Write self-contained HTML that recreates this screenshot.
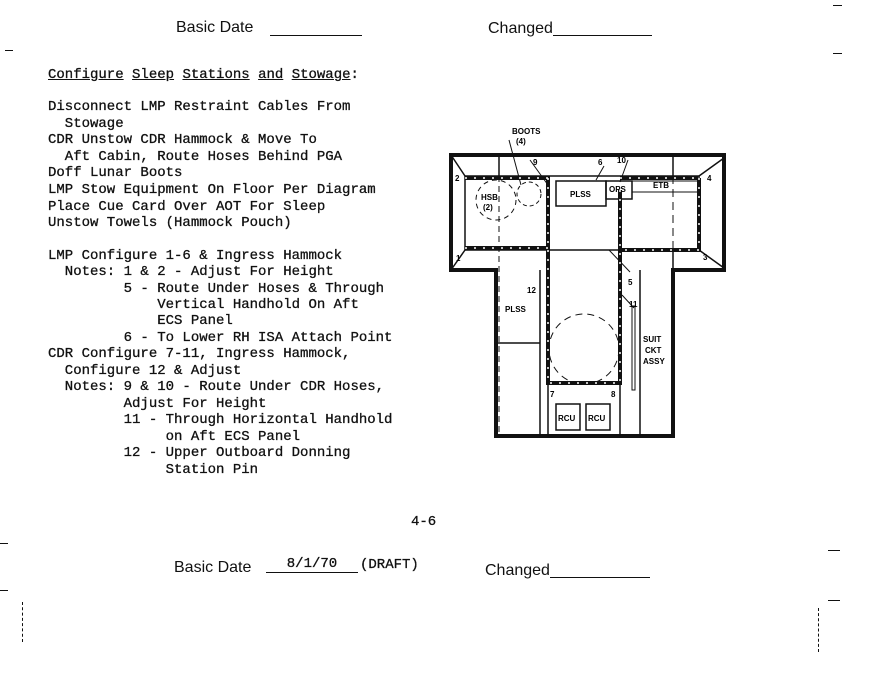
<!DOCTYPE html>
<html><head><style>
body{margin:0;width:871px;height:695px;background:#fff;position:relative;overflow:hidden;font-family:"Liberation Sans",sans-serif;color:#111}
.m{position:absolute;font-family:"Liberation Mono",monospace;font-size:14px;line-height:16px;white-space:pre;-webkit-text-stroke:0.3px #111}
.s{position:absolute;font-size:16px;white-space:pre}
.l{position:absolute;height:1px;background:#111}
u{text-decoration:underline}
</style></head><body>
<div class="s" style="left:176px;top:19px">Basic Date</div><div class="l" style="left:270px;top:35px;width:92px"></div>
<div class="s" style="left:488px;top:20px">Changed</div><div class="l" style="left:553px;top:35px;width:99px"></div>
<div class="m" style="left:48px;top:67px"><u>Configure</u> <u>Sleep</u> <u>Stations</u> <u>and</u> <u>Stowage</u>:</div>
<div class="m" style="left:48px;top:99px">Disconnect LMP Restraint Cables From</div>
<div class="m" style="left:48px;top:116px">  Stowage</div>
<div class="m" style="left:48px;top:132px">CDR Unstow CDR Hammock &amp; Move To</div>
<div class="m" style="left:48px;top:149px">  Aft Cabin, Route Hoses Behind PGA</div>
<div class="m" style="left:48px;top:165px">Doff Lunar Boots</div>
<div class="m" style="left:48px;top:182px">LMP Stow Equipment On Floor Per Diagram</div>
<div class="m" style="left:48px;top:199px">Place Cue Card Over AOT For Sleep</div>
<div class="m" style="left:48px;top:215px">Unstow Towels (Hammock Pouch)</div>
<div class="m" style="left:48px;top:248px">LMP Configure 1-6 &amp; Ingress Hammock</div>
<div class="m" style="left:48px;top:264px">  Notes: 1 &amp; 2 - Adjust For Height</div>
<div class="m" style="left:48px;top:281px">         5 - Route Under Hoses &amp; Through</div>
<div class="m" style="left:48px;top:297px">             Vertical Handhold On Aft</div>
<div class="m" style="left:48px;top:313px">             ECS Panel</div>
<div class="m" style="left:48px;top:330px">         6 - To Lower RH ISA Attach Point</div>
<div class="m" style="left:48px;top:346px">CDR Configure 7-11, Ingress Hammock,</div>
<div class="m" style="left:48px;top:363px">  Configure 12 &amp; Adjust</div>
<div class="m" style="left:48px;top:379px">  Notes: 9 &amp; 10 - Route Under CDR Hoses,</div>
<div class="m" style="left:48px;top:396px">         Adjust For Height</div>
<div class="m" style="left:48px;top:412px">         11 - Through Horizontal Handhold</div>
<div class="m" style="left:48px;top:429px">              on Aft ECS Panel</div>
<div class="m" style="left:48px;top:445px">         12 - Upper Outboard Donning</div>
<div class="m" style="left:48px;top:462px">              Station Pin</div>
<div class="m" style="left:411px;top:514px">4-6</div>
<div class="s" style="left:174px;top:559px">Basic Date</div>
<div class="m" style="left:266px;top:557px;width:92px;text-align:center;border-bottom:1px solid #111;line-height:15px">8/1/70</div>
<div class="m" style="left:360px;top:557px">(DRAFT)</div>
<div class="s" style="left:485px;top:562px">Changed</div><div class="l" style="left:550px;top:577px;width:100px"></div>
<div class="l" style="left:5px;top:50px;width:8px"></div><div class="l" style="left:0px;top:543px;width:8px"></div><div class="l" style="left:0px;top:590px;width:8px"></div>
<div class="l" style="left:833px;top:5px;width:9px"></div><div class="l" style="left:833px;top:53px;width:9px"></div><div class="l" style="left:828px;top:550px;width:12px"></div><div class="l" style="left:828px;top:600px;width:12px"></div>
<div style="position:absolute;left:22px;top:602px;width:1px;height:40px;border-left:1px dashed #111"></div>
<div style="position:absolute;left:818px;top:608px;width:1px;height:44px;border-left:1px dashed #111"></div>
<svg width="871" height="695" style="position:absolute;left:0;top:0" font-family="Liberation Sans,sans-serif" font-weight="bold" font-size="8">
<g fill="none" stroke="#111">
<path d="M451 155H724V270H673V436H496V270H451Z" stroke-width="4"/>
<rect x="465" y="176" width="234" height="74" stroke-width="1.5"/>
<path d="M451 155L465 176M724 158L699 176M451 270L465 250M724 268L699 250" stroke-width="1.5"/>
<path d="M499 155V176M673 155V176M673 250V270M540 270V436M640 270V436M496 343H540M548 383H620V436M548 383V436" stroke-width="1.5"/>
<path d="M499 176V436" stroke-width="1" stroke-dasharray="6 4"/>
<path d="M673 176V250M548 250H620" stroke-width="1" stroke-dasharray="8 5"/>
<rect x="556" y="404" width="24" height="26" stroke-width="1.5"/><rect x="586" y="404" width="24" height="26" stroke-width="1.5"/>
<rect x="556" y="181" width="50" height="25" stroke-width="1.5"/><rect x="606" y="181" width="26" height="18" stroke-width="1.5"/>
<path d="M632 181H698M632 192H698" stroke-width="1"/>
<circle cx="496" cy="200" r="20" stroke-width="1" stroke-dasharray="5 4"/>
<circle cx="529" cy="194" r="12" stroke-width="1" stroke-dasharray="4 3"/>
<circle cx="584" cy="349" r="35" stroke-width="1" stroke-dasharray="7 5"/>
<rect x="632" y="306" width="3" height="84" stroke-width="1"/>
<path d="M509 140L521 185M530 160L548 185M604 166L596 180M628 160L620 182M609 250L630 272M622 295L634 308" stroke-width="1"/>
</g>
<g fill="none" stroke="#111" stroke-width="4">
<path d="M465 178H550M620 178H698M699 178V250H620M465 248H548M548 178V383H620V190"/>
</g>
<g fill="none" stroke="#fff" stroke-width="1.5" stroke-dasharray="2 7">
<path d="M465 178H550M620 178H698M699 178V250H620M465 248H548M548 178V383H620V190"/>
</g>
<text x="512" y="134">BOOTS</text><text x="516" y="144">(4)</text>
<text x="455" y="181">2</text><text x="707" y="181">4</text><text x="456" y="261">1</text><text x="703" y="260">3</text>
<text x="533" y="165">9</text><text x="598" y="165">6</text><text x="617" y="163">10</text>
<text x="481" y="200">HSB</text><text x="483" y="210">(2)</text>
<text x="570" y="197">PLSS</text><text x="609" y="192">OPS</text><text x="653" y="188">ETB</text>
<text x="505" y="312">PLSS</text><text x="527" y="293">12</text><text x="628" y="285">5</text><text x="629" y="307">11</text>
<text x="643" y="342">SUIT</text><text x="645" y="353">CKT</text><text x="643" y="364">ASSY</text>
<text x="550" y="397">7</text><text x="611" y="397">8</text>
<text x="558" y="421">RCU</text><text x="588" y="421">RCU</text>
</svg>
</body></html>
